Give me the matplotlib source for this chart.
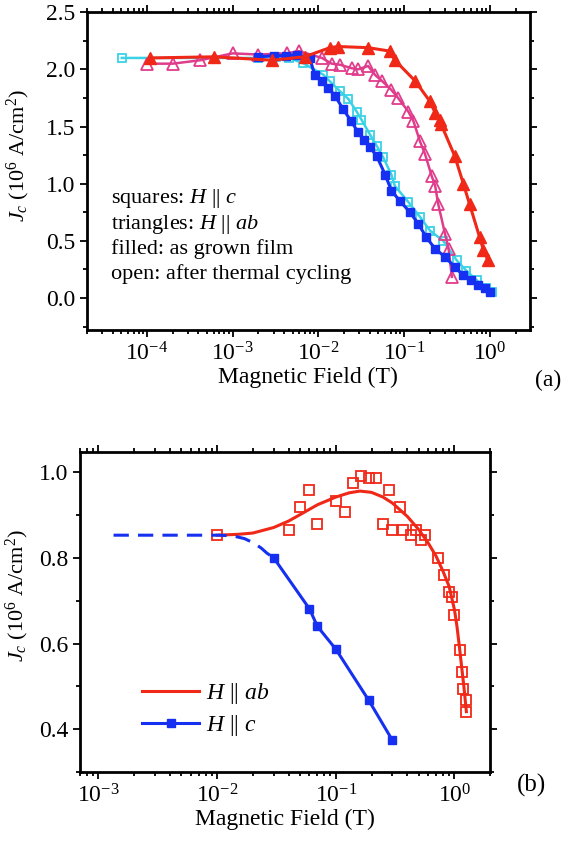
import numpy as np
import matplotlib
matplotlib.use('Agg')
import matplotlib.pyplot as plt
from matplotlib.ticker import LogLocator, MultipleLocator, NullFormatter

plt.rcParams['font.family'] = ['Liberation Serif', 'DejaVu Serif']
plt.rcParams['mathtext.fontset'] = 'custom'
plt.rcParams['mathtext.rm'] = 'Liberation Serif'
plt.rcParams['mathtext.it'] = 'Liberation Serif:italic'
plt.rcParams['mathtext.bf'] = 'Liberation Serif:bold'

# ---- panel (a): Jc vs field, as grown / after thermal cycling ----
# H || c, after thermal cycling (open cyan squares)
c_open_field = [5.1e-5, 2.0e-3, 3.2e-3, 4.5e-3, 6.6e-3, 0.0114, 0.0136, 0.0178, 0.0224, 0.028,
                0.0318, 0.040, 0.048, 0.057, 0.071, 0.078, 0.112, 0.153, 0.20, 0.286,
                0.41, 0.53, 0.70, 0.91, 1.05]
c_open_jc = [2.10, 2.10, 2.11, 2.10, 2.055, 1.954, 1.896, 1.81, 1.74, 1.63,
             1.56, 1.43, 1.33, 1.23, 1.08, 0.98, 0.84, 0.71, 0.59, 0.50,
             0.33, 0.24, 0.157, 0.084, 0.055]

# H || c, as grown (filled blue squares)
c_fill_field = [2.0e-3, 3.0e-3, 4.2e-3, 5.6e-3, 7.9e-3, 9.1e-3, 0.011, 0.013, 0.0156, 0.0195,
                0.024, 0.029, 0.034, 0.040, 0.048, 0.060, 0.071, 0.089, 0.117, 0.146,
                0.182, 0.23, 0.30, 0.39, 0.49, 0.61, 0.73, 0.87, 1.0]
c_fill_jc = [2.11, 2.12, 2.12, 2.13, 2.10, 1.95, 1.90, 1.84, 1.77, 1.65,
             1.55, 1.45, 1.38, 1.32, 1.24, 1.08, 0.94, 0.85, 0.75, 0.65,
             0.53, 0.43, 0.36, 0.27, 0.20, 0.157, 0.113, 0.084, 0.055]

# H || ab, after thermal cycling (open magenta triangles)
ab_open_field = [1.0e-4, 2.0e-4, 4.2e-4, 1.0e-3, 2.0e-3, 4.3e-3, 5.9e-3, 0.011, 0.0143, 0.018,
                 0.0245, 0.029, 0.038, 0.046, 0.055, 0.071, 0.085, 0.112, 0.128, 0.153,
                 0.175, 0.209, 0.23, 0.25, 0.30, 0.33, 0.36]
ab_open_jc = [2.05, 2.05, 2.08, 2.14, 2.13, 2.14, 2.16, 2.10, 2.05, 2.04,
              2.01, 2.00, 2.03, 1.95, 1.90, 1.82, 1.75, 1.63, 1.55, 1.37,
              1.26, 1.07, 0.98, 0.82, 0.56, 0.43, 0.185]

# H || ab, as grown (filled red triangles)
ab_fill_field = [1.1e-4, 6.0e-4, 2.9e-3, 6.9e-3, 0.0136, 0.017, 0.038, 0.068, 0.078, 0.134,
                 0.20, 0.23, 0.26, 0.27, 0.39, 0.49, 0.58, 0.76, 0.84, 0.95]
ab_fill_jc = [2.10, 2.11, 2.08, 2.11, 2.19, 2.20, 2.19, 2.16, 2.08, 1.90,
              1.72, 1.62, 1.56, 1.52, 1.24, 1.00, 0.82, 0.53, 0.42, 0.33]

# ---- panel (b) ----
b_ab_field = [0.01, 0.040, 0.050, 0.060, 0.070, 0.10, 0.12, 0.14, 0.163, 0.19,
              0.22, 0.25, 0.28, 0.30, 0.35, 0.37, 0.43, 0.47, 0.52, 0.56,
              0.72, 0.82, 0.90, 0.955, 1.0, 1.11, 1.16, 1.18, 1.24, 1.26]
b_ab_jc = [0.853, 0.866, 0.919, 0.959, 0.879, 0.934, 0.907, 0.974, 0.991, 0.987,
           0.987, 0.880, 0.959, 0.866, 0.919, 0.866, 0.854, 0.866, 0.841, 0.853,
           0.800, 0.760, 0.720, 0.708, 0.667, 0.586, 0.533, 0.494, 0.469, 0.441]

b_ab_fit_field = [0.01, 0.015, 0.02, 0.03, 0.04, 0.05, 0.07, 0.1, 0.13, 0.16, 0.2,
                  0.25, 0.3, 0.4, 0.5, 0.6, 0.7, 0.8, 0.9, 1.0, 1.05, 1.1, 1.15, 1.2, 1.26]
b_ab_fit_jc = [0.853, 0.855, 0.858, 0.871, 0.886, 0.901, 0.924, 0.942, 0.952, 0.956, 0.953,
               0.942, 0.928, 0.897, 0.866, 0.835, 0.804, 0.769, 0.734, 0.679, 0.640, 0.593,
               0.545, 0.500, 0.441]

b_c_dash_field = [1.34e-3, 3e-3, 6e-3, 0.0105, 0.0138, 0.017, 0.0203, 0.0235, 0.0263, 0.03]
b_c_dash_jc = [0.853, 0.853, 0.853, 0.853, 0.851, 0.845, 0.835, 0.823, 0.811, 0.800]

b_c_field = [0.03, 0.06, 0.07, 0.10, 0.19, 0.30]
b_c_jc = [0.800, 0.681, 0.640, 0.587, 0.467, 0.374]

FS = 16
RED = '#f02818'
PINK = '#e03c8c'
BLUE = '#1530f0'
CYAN = '#3cd2e6'


def style_axes(ax):
    ax.set_xscale('log')
    ax.xaxis.set_major_locator(LogLocator(base=10, numticks=20))
    ax.xaxis.set_minor_locator(LogLocator(base=10, subs=np.arange(2, 10), numticks=20))
    ax.xaxis.set_minor_formatter(NullFormatter())
    ax.tick_params(which='both', top=True, right=True, labelsize=FS + 1, width=1.3)
    ax.tick_params(which='major', length=5)
    ax.tick_params(which='minor', length=3)
    ax.tick_params(which='both', direction='out')
    for s in ax.spines.values():
        s.set_linewidth(2.0)


fig = plt.figure(figsize=(5.68, 8.43), dpi=100)

# panel (a)
ax1 = fig.add_axes([0.153, 0.6085, 0.780, 0.377])
ax1.plot(c_open_field, c_open_jc, '-s', color=CYAN, mfc='none', mec=CYAN, ms=6, mew=1.3, lw=1.8)
ax1.plot(ab_open_field, ab_open_jc, '-^', color=PINK, mfc='none', mec=PINK, ms=8, mew=1.3, lw=1.8)
ax1.plot(c_fill_field, c_fill_jc, '-s', color=BLUE, ms=6, lw=2.2)
ax1.plot(ab_fill_field, ab_fill_jc, '-^', color=RED, ms=8, lw=2.2)
style_axes(ax1)
ax1.set_xlim(2.0e-5, 2.93)
ax1.set_ylim(-0.28, 2.5)
ax1.yaxis.set_major_locator(MultipleLocator(0.5))
ax1.yaxis.set_minor_locator(MultipleLocator(0.25))
ax1.yaxis.set_major_formatter(plt.FormatStrFormatter('%.1f'))
ax1.set_xlabel('Magnetic Field (T)', fontsize=FS + 1, labelpad=1)
ax1.set_ylabel('$J_c$ (10$^6$ A/cm$^2$)', fontsize=FS)
ax1.yaxis.set_label_coords(-0.125, 0.55)

notes = ['squares: $H$ || $c$', 'triangles: $H$ || $ab$',
         'filled: as grown film', 'open: after thermal cycling']
note_y = [0.415, 0.333, 0.255, 0.176]
for txt, yy in zip(notes, note_y):
    ax1.text(0.055, yy, txt, transform=ax1.transAxes, fontsize=FS, va='center')
fig.text(0.965, 0.549, '(a)', fontsize=FS + 1, ha='center', va='center')

# panel (b)
ax2 = fig.add_axes([0.141, 0.0842, 0.722, 0.380])
ax2.plot(b_ab_fit_field, b_ab_fit_jc, '-', color=RED, lw=2.2, label='$H$ || $ab$')
ax2.plot(b_ab_field, b_ab_jc, 's', color=RED, mfc='none', mec=RED, ms=7, mew=1.3)
ax2.plot(b_c_dash_field, b_c_dash_jc, '--', color=BLUE, lw=2.2, dashes=(5, 3))
ax2.plot(b_c_field, b_c_jc, '-s', color=BLUE, ms=6, lw=2.2, label='$H$ || $c$')
style_axes(ax2)
ax2.set_xlim(7.0e-4, 2.0)
ax2.set_ylim(0.30, 1.048)
ax2.yaxis.set_major_locator(MultipleLocator(0.2))
ax2.yaxis.set_minor_locator(MultipleLocator(0.1))
ax2.yaxis.set_major_formatter(plt.FormatStrFormatter('%.1f'))
ax2.set_xlabel('Magnetic Field (T)', fontsize=FS + 1, labelpad=1)
ax2.set_ylabel('$J_c$ (10$^6$ A/cm$^2$)', fontsize=FS)
ax2.yaxis.set_label_coords(-0.12, 0.55)
ax2.legend(loc='upper left', bbox_to_anchor=(0.10, 0.35), frameon=False, fontsize=FS + 1,
           handlelength=2.4, handletextpad=0.3, labelspacing=0.3)
fig.text(0.935, 0.068, '(b)', fontsize=FS + 2, ha='center', va='center')

fig.savefig('out.png', dpi=100)
